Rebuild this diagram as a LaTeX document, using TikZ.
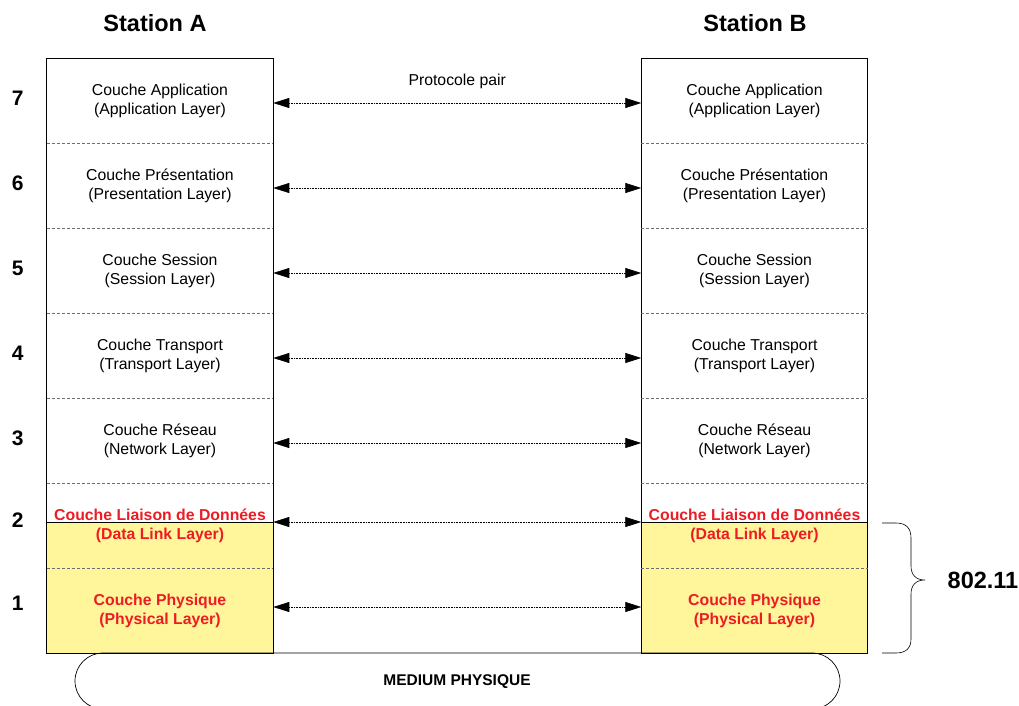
\documentclass[tikz,border=0pt]{standalone}
\usepackage{fontspec}
\setmainfont{Liberation Sans}
\usetikzlibrary{arrows.meta,positioning}

\definecolor{couchejaune}{RGB}{255,246,155}
\definecolor{rougecouche}{RGB}{237,28,36}
\definecolor{traitgris}{RGB}{110,110,110}

\tikzset{
  couche/.style={minimum width=226.5pt, minimum height=85pt, inner sep=0pt, outer sep=0pt,
    align=center, font=\fontsize{15.8}{19}\selectfont},
  basse/.style={couche, text=rougecouche, font=\bfseries\fontsize{15.8}{19}\selectfont},
  pair/.style={densely dotted, line width=0.6pt,
    {Triangle[length=16pt,width=10pt]}-{Triangle[length=16pt,width=10pt]}},
  separe/.style={traitgris, dash pattern=on 3pt off 2pt, line width=0.6pt},
  numero/.style={font=\bfseries\fontsize{21}{24}\selectfont},
  station/.style={font=\bfseries\fontsize{23.5}{26}\selectfont}
}

\begin{document}
\begin{tikzpicture}[x=1pt,y=-1pt,line width=0.7pt]
    \useasboundingbox (0,0) rectangle (1019,706);
    % fonds jaunes des couches 802.11
    \draw[fill=couchejaune] (46.75,522) rectangle (273.25,653);
    \draw[fill=couchejaune] (641.25,522) rectangle (867.75,653);

    % station A
    \node[couche] (a7) at (160,100.5) {Couche Application\\(Application Layer)};
    \node[couche, below=0pt of a7] (a6) {Couche Présentation\\(Presentation Layer)};
    \node[couche, below=0pt of a6] (a5) {Couche Session\\(Session Layer)};
    \node[couche, below=0pt of a5] (a4) {Couche Transport\\(Transport Layer)};
    \node[couche, below=0pt of a4] (a3) {Couche Réseau\\(Network Layer)};
    \node[basse, below=0pt of a3] (a2) {Couche Liaison de Données\\(Data Link Layer)};
    \node[basse, below=0pt of a2] (a1) {Couche Physique\\(Physical Layer)};

    % station B
    \node[couche] (b7) at (754.5,100.5) {Couche Application\\(Application Layer)};
    \node[couche, below=0pt of b7] (b6) {Couche Présentation\\(Presentation Layer)};
    \node[couche, below=0pt of b6] (b5) {Couche Session\\(Session Layer)};
    \node[couche, below=0pt of b5] (b4) {Couche Transport\\(Transport Layer)};
    \node[couche, below=0pt of b4] (b3) {Couche Réseau\\(Network Layer)};
    \node[basse, below=0pt of b3] (b2) {Couche Liaison de Données\\(Data Link Layer)};
    \node[basse, below=0pt of b2] (b1) {Couche Physique\\(Physical Layer)};

    \draw (a7.north west) rectangle (a1.south east);
    \draw (b7.north west) rectangle (b1.south east);
    \foreach \i in {7,6,5,4,3,2} {
        \draw[separe] (a\i.south west) -- (a\i.south east);
        \draw[separe] (b\i.south west) -- (b\i.south east);
    }

    \node[station] (sa) at (155,23) {Station A};
    \node[station] (sb) at (755,23) {Station B};

    \foreach \i in {7,6,5,4,3}
        \node[numero] (n\i) at ([xshift=-29pt,yshift=2.5pt]a\i.west) {\i};
    \node[numero] (n2) at ([xshift=-29pt,yshift=5.5pt]a2.west) {2};
    \node[numero] (n1) at ([xshift=-29pt,yshift=7pt]a1.west) {1};

    % protocoles pairs
    \draw[pair] ([yshift=-2.5pt]a7.east) -- node[above=11pt, font=\fontsize{15.8}{19}\selectfont] (proto) {Protocole pair} ([yshift=-2.5pt]b7.west);
    \foreach \i in {6,5,4,3}
        \draw[pair] ([yshift=-2.5pt]a\i.east) -- ([yshift=-2.5pt]b\i.west);
    \draw[pair] ([yshift=3.5pt]a2.east) -- ([yshift=3.5pt]b2.west);
    \draw[pair] ([yshift=3.5pt]a1.east) -- ([yshift=3.5pt]b1.west);

    % accolade 802.11
    \draw[line width=0.6pt] (882,523) -- (896,523) .. controls (906,523) and (911,528) .. (911,538)
        -- (911,566) .. controls (911,575) and (916,580) .. (925,580)
        .. controls (916,580) and (911,585) .. (911,594)
        -- (911,639) .. controls (911,648) and (906,653) .. (896,653) -- (882,653);
    \node[station] (norme) at (983,580) {802.11};

    % medium physique
    \begin{scope}
        \clip (0,0) rectangle (1019,706);
        \draw[rounded corners=28pt] (75,653) rectangle (840,709);
    \end{scope}
    \node[font=\bfseries\fontsize{15.5}{18}\selectfont] (medium) at (457,682) {MEDIUM PHYSIQUE};
\end{tikzpicture}
\end{document}
